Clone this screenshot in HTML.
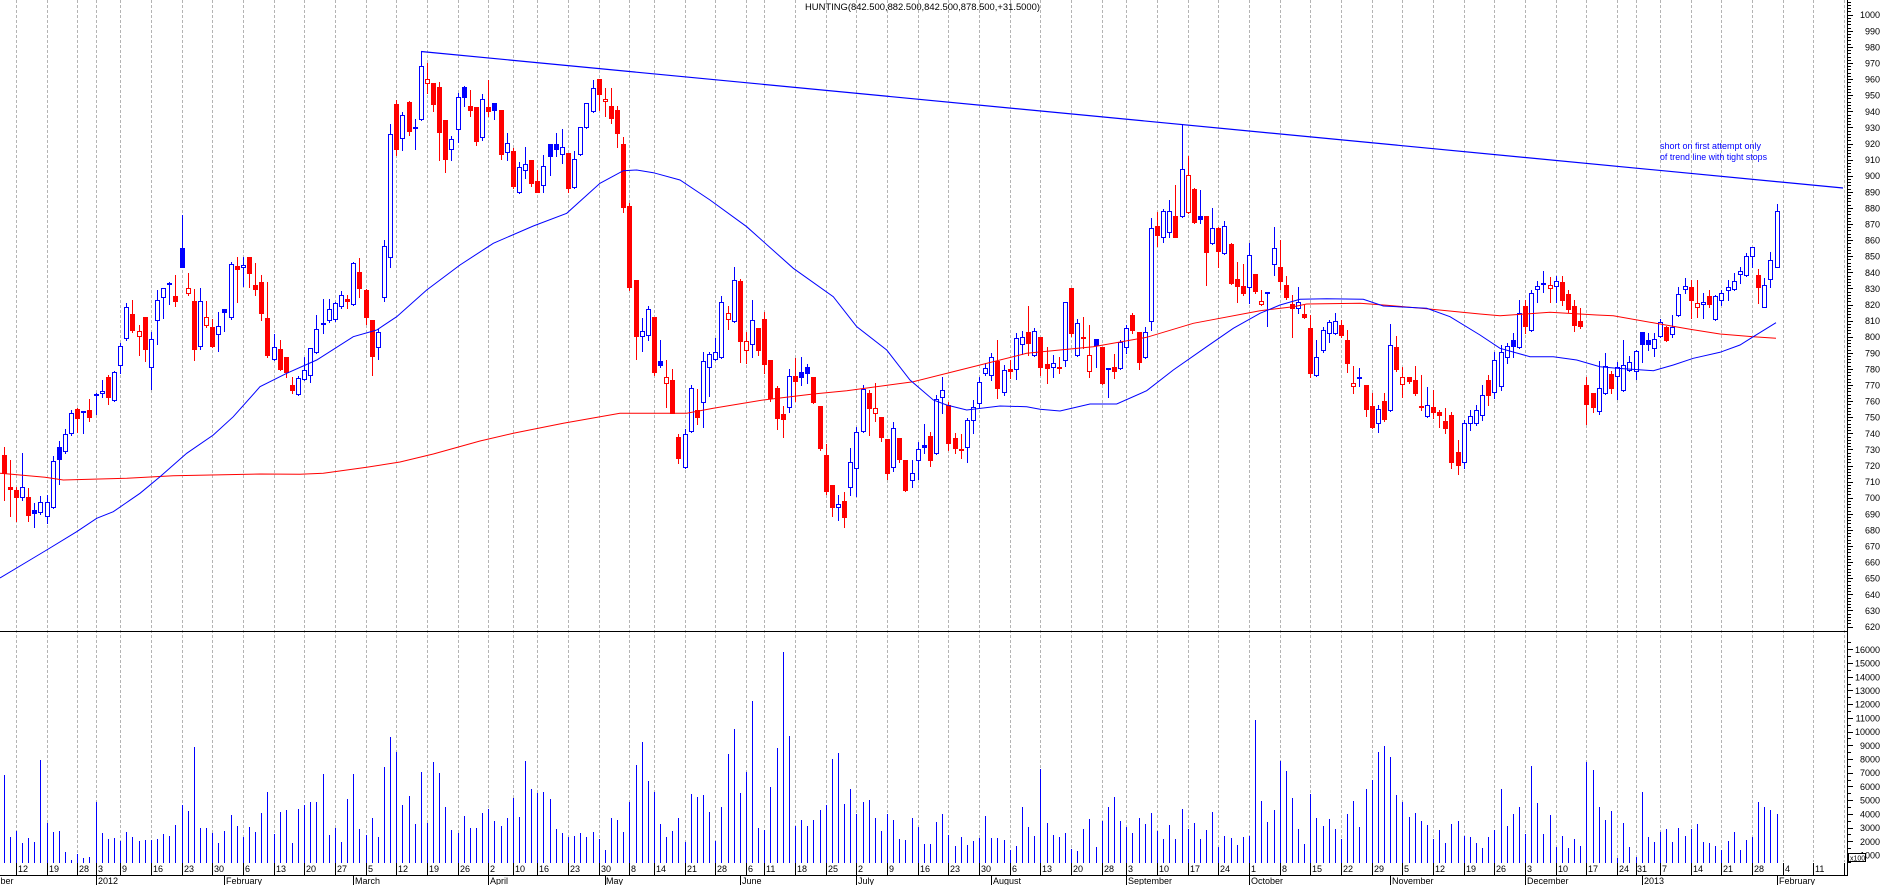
<!DOCTYPE html>
<html>
<head>
<meta charset="utf-8">
<style>
html,body{margin:0;padding:0;background:#fff;}
svg{display:block;}
text{font-family:"Liberation Sans",Arial,sans-serif;font-size:9px;fill:#000;}
</style>
</head>
<body>
<svg id="c" width="1883" height="885" viewBox="0 0 1883 885" xmlns="http://www.w3.org/2000/svg">
<rect x="0" y="0" width="1883" height="885" fill="#fff"/>
<g id="grid" shape-rendering="crispEdges"></g>
<g id="vol" shape-rendering="crispEdges"></g>
<g id="cand" shape-rendering="crispEdges"></g>
<!-- moving averages -->
<polyline fill="none" stroke="#ff0000" stroke-width="1" points="0,473.3 11.7,474.3 45,477.3 63.3,480 126.7,478.3 173.3,475.7 260,474 300,474.3 323.3,473.3 366.7,467.3 400,462 433.3,454 480,441 513.3,433.3 563.3,423.3 620,413.3 686.7,413.3 713.3,408.3 763.3,400 813.3,394 846.7,390.7 913.3,381.7 960,370 1026.7,353.3 1093.3,346.7 1146.7,337.3 1193.3,323.3 1260,310.7 1293.3,306.7 1306.7,304 1360,303.3 1386.7,305.3 1426.7,308.7 1480,314 1500,315.7 1550,312.3 1596.7,315 1613.3,315.7 1660,324 1690,329.3 1720,334 1753.3,336.7 1776,338.3"/>
<polyline fill="none" stroke="#0000ff" stroke-width="1" points="0,578 30,560 46.7,550 76.7,531.7 96.7,518.3 113.3,511.7 140,493.3 160,476.7 186.7,453.3 213.3,435 233.3,416.7 260,386.7 286.7,373.3 316.7,360 353.3,336.7 376.7,330 396.7,316.7 426.7,290 460,265 493.3,243.3 533.3,226 566.7,213.3 600,183.3 623.3,170.7 636.7,170 653.3,172.7 680,180 710,200 746.7,226.7 793.3,268.3 833.3,296.7 856.7,326.7 886.7,350 910,380 933.3,400 946.7,405 966.7,410 1000,406 1026.7,406.7 1040,409.3 1060,411 1090,404 1116.7,404 1146.7,390.7 1173.3,370 1206.7,346.7 1233.3,328.3 1260,313.3 1280,305 1300,299.3 1326.7,298.7 1363.3,299.3 1383.3,306 1426.7,308.3 1450,316.7 1480,335 1500,348.3 1530,356.7 1553.3,356.7 1576.7,360 1600,366.7 1616.7,368.3 1653.3,370.7 1673.3,365 1693.3,358.3 1720,352.3 1740,345 1753.3,336.7 1776,322.7"/>
<!-- trend line -->
<line x1="421" y1="51.5" x2="1843" y2="188" stroke="#0000ff" stroke-width="1.2"/>
<!-- axes -->
<g shape-rendering="crispEdges" stroke="#000">
<line x1="0" y1="631.5" x2="1848" y2="631.5"/>
<line x1="0" y1="875.5" x2="1848" y2="875.5"/>
<line x1="1847.5" y1="0" x2="1847.5" y2="876"/>
</g>
<g id="ticks" shape-rendering="crispEdges"></g>

<!-- title -->
<text x="805" y="10" textLength="235" lengthAdjust="spacingAndGlyphs">HUNTING(842.500,882.500,842.500,878.500,+31.5000)</text>

<!-- annotation -->
<text x="1660" y="149" style="fill:#0000ff" textLength="101" lengthAdjust="spacingAndGlyphs">short on first attempt only</text>
<text x="1660" y="160" style="fill:#0000ff" textLength="107" lengthAdjust="spacingAndGlyphs">of trend line with tight stops</text>

<!-- price labels -->
<g text-anchor="end">
<text x="1880" y="18.2">1000</text>
<text x="1880" y="34.3">990</text>
<text x="1880" y="50.4">980</text>
<text x="1880" y="66.5">970</text>
<text x="1880" y="82.6">960</text>
<text x="1880" y="98.7">950</text>
<text x="1880" y="114.8">940</text>
<text x="1880" y="130.9">930</text>
<text x="1880" y="147">920</text>
<text x="1880" y="163.1">910</text>
<text x="1880" y="179.2">900</text>
<text x="1880" y="195.3">890</text>
<text x="1880" y="211.4">880</text>
<text x="1880" y="227.5">870</text>
<text x="1880" y="243.6">860</text>
<text x="1880" y="259.7">850</text>
<text x="1880" y="275.8">840</text>
<text x="1880" y="291.9">830</text>
<text x="1880" y="308">820</text>
<text x="1880" y="324.1">810</text>
<text x="1880" y="340.2">800</text>
<text x="1880" y="356.3">790</text>
<text x="1880" y="372.4">780</text>
<text x="1880" y="388.5">770</text>
<text x="1880" y="404.6">760</text>
<text x="1880" y="420.7">750</text>
<text x="1880" y="436.8">740</text>
<text x="1880" y="452.9">730</text>
<text x="1880" y="469">720</text>
<text x="1880" y="485.1">710</text>
<text x="1880" y="501.2">700</text>
<text x="1880" y="517.3">690</text>
<text x="1880" y="533.4">680</text>
<text x="1880" y="549.5">670</text>
<text x="1880" y="565.6">660</text>
<text x="1880" y="581.7">650</text>
<text x="1880" y="597.8">640</text>
<text x="1880" y="613.9">630</text>
<text x="1880" y="630">620</text>
<!-- volume labels -->
<text x="1880" y="652.8">16000</text>
<text x="1880" y="666.5">15000</text>
<text x="1880" y="680.3">14000</text>
<text x="1880" y="694">13000</text>
<text x="1880" y="707.7">12000</text>
<text x="1880" y="721.4">11000</text>
<text x="1880" y="735.1">10000</text>
<text x="1880" y="748.8">9000</text>
<text x="1880" y="762.5">8000</text>
<text x="1880" y="776.2">7000</text>
<text x="1880" y="789.9">6000</text>
<text x="1880" y="803.7">5000</text>
<text x="1880" y="817.4">4000</text>
<text x="1880" y="831.1">3000</text>
<text x="1880" y="844.8">2000</text>
<text x="1880" y="858.5">1000</text>
</g>
<rect x="1848.5" y="853.5" width="17" height="8" fill="#fff" stroke="#000" stroke-width="1" shape-rendering="crispEdges"/>
<text x="1850" y="860.5" style="font-size:7px">x100</text>

<!-- day labels -->
<g>
<text x="18" y="872">12</text>
<text x="49" y="872">19</text>
<text x="79" y="872">28</text>
<text x="98" y="872">3</text>
<text x="122" y="872">9</text>
<text x="153" y="872">16</text>
<text x="184" y="872">23</text>
<text x="214" y="872">30</text>
<text x="245" y="872">6</text>
<text x="276" y="872">13</text>
<text x="306" y="872">20</text>
<text x="337" y="872">27</text>
<text x="368" y="872">5</text>
<text x="398" y="872">12</text>
<text x="429" y="872">19</text>
<text x="460" y="872">26</text>
<text x="490" y="872">2</text>
<text x="515" y="872">10</text>
<text x="539" y="872">16</text>
<text x="570" y="872">23</text>
<text x="601" y="872">30</text>
<text x="631" y="872">8</text>
<text x="656" y="872">14</text>
<text x="687" y="872">21</text>
<text x="717" y="872">28</text>
<text x="748" y="872">6</text>
<text x="766" y="872">11</text>
<text x="797" y="872">18</text>
<text x="828" y="872">25</text>
<text x="858" y="872">2</text>
<text x="889" y="872">9</text>
<text x="920" y="872">16</text>
<text x="950" y="872">23</text>
<text x="981" y="872">30</text>
<text x="1012" y="872">6</text>
<text x="1042" y="872">13</text>
<text x="1073" y="872">20</text>
<text x="1104" y="872">28</text>
<text x="1128" y="872">3</text>
<text x="1159" y="872">10</text>
<text x="1190" y="872">17</text>
<text x="1220" y="872">24</text>
<text x="1251" y="872">1</text>
<text x="1282" y="872">8</text>
<text x="1312" y="872">15</text>
<text x="1343" y="872">22</text>
<text x="1374" y="872">29</text>
<text x="1404" y="872">5</text>
<text x="1435" y="872">12</text>
<text x="1466" y="872">19</text>
<text x="1496" y="872">26</text>
<text x="1527" y="872">3</text>
<text x="1558" y="872">10</text>
<text x="1588" y="872">17</text>
<text x="1619" y="872">24</text>
<text x="1637" y="872">31</text>
<text x="1662" y="872">7</text>
<text x="1693" y="872">14</text>
<text x="1723" y="872">21</text>
<text x="1754" y="872">28</text>
<text x="1785" y="872">4</text>
<text x="1815" y="872">11</text>
</g>
<!-- month labels -->
<g>
<text x="-28" y="884">December</text>
<text x="98" y="884">2012</text>
<text x="226" y="884">February</text>
<text x="355" y="884">March</text>
<text x="490" y="884">April</text>
<text x="606" y="884">May</text>
<text x="742" y="884">June</text>
<text x="858" y="884">July</text>
<text x="993" y="884">August</text>
<text x="1128" y="884">September</text>
<text x="1251" y="884">October</text>
<text x="1392" y="884">November</text>
<text x="1527" y="884">December</text>
<text x="1644" y="884">2013</text>
<text x="1779" y="884">February</text>
</g>
</svg>
<script>
(function(){
var NS="http://www.w3.org/2000/svg";
function X(i){return Math.round(3.6+6.135*i);}
var S="R 455 473 447 500|R 487 489 460 516|R 490 497 487 521|B 487 497 453 500|R 497 515 488 521|b 510 513 503 527|B 502 512 496 514|B 502 516 495 523|B 461 507 456 508|b 447 459 441 484|"+
"B 434 451 429 453|B 413 433 410 435|R 409 418 408 432|b 411 412 411 433|R 410 417 399 421|b 394 394 393 414|B 391 393 380 397|R 377 397 375 404|B 372 400 371 401|B 346 365 343 373|"+
"B 307 338 303 340|R 314 330 300 332|r 331 336 325 355|R 317 349 317 361|B 339 367 332 389|B 300 320 290 344|B 288 297 288 318|b 283 283 282 304|R 296 301 275 306|b 248 267 215 267|"+
"r 288 293 273 295|R 301 349 289 360|B 301 346 288 349|r 317 325 301 327|R 327 346 319 347|B 326 334 312 351|b 309 312 309 331|B 264 317 262 319|R 266 269 257 302|B 265 267 257 286|"+
"R 257 273 257 287|R 285 289 263 295|R 282 313 275 320|R 318 355 282 357|B 347 359 334 360|R 349 369 340 370|R 357 372 357 377|R 385 390 377 393|B 378 394 376 395|B 370 379 357 380|"+
"B 348 375 348 382|B 329 352 315 353|b 323 324 299 333|B 309 320 299 322|B 303 319 302 321|B 295 306 291 308|R 299 301 295 308|B 263 304 262 305|R 272 288 258 297|R 290 317 289 324|"+
"R 320 356 320 375|B 332 347 329 359|B 246 297 240 301|B 134 257 124 267|R 104 149 100 155|B 115 138 112 150|R 102 131 101 135|b 127 128 119 149|B 66 119 51 120|r 79 83 63 93|"+
"R 83 104 83 111|R 87 132 82 160|R 120 159 120 172|B 139 149 136 160|B 97 129 93 142|b 87 97 86 106|R 106 110 90 116|R 107 141 107 145|B 99 137 94 140|R 107 111 80 116|"+
"b 103 110 103 119|R 110 154 110 159|B 143 152 133 160|R 151 186 148 188|B 167 192 162 193|B 164 170 147 178|R 160 183 160 186|R 181 192 170 192|B 166 185 155 192|b 144 156 144 175|"+
"b 144 149 133 156|B 147 154 129 163|R 153 188 153 192|B 159 187 151 188|B 127 154 127 155|B 103 127 103 128|B 88 111 80 112|R 79 94 79 110|r 99 101 88 116|R 106 118 88 123|"+
"R 110 133 106 147|R 144 207 137 212|R 206 287 203 290|R 280 336 280 359|B 331 336 318 351|B 309 335 306 340|R 317 372 317 375|b 361 365 340 367|r 377 383 360 407|R 380 413 369 413|"+
"R 437 458 434 463|B 434 467 429 468|B 388 431 385 432|R 410 417 389 424|B 361 402 352 427|B 354 367 352 396|B 352 359 338 360|B 302 357 296 358|r 313 319 306 329|B 280 321 267 322|"+
"R 281 341 279 362|r 341 350 332 363|B 320 344 300 357|R 328 350 328 355|R 319 364 312 373|R 360 398 360 401|R 388 418 386 429|R 414 419 406 437|B 376 407 369 412|R 376 381 358 401|"+
"b 372 377 357 385|b 367 373 364 383|R 377 402 377 403|R 406 448 406 450|R 455 491 444 494|R 485 507 485 516|B 504 507 495 520|R 501 517 492 527|B 462 487 448 495|B 432 468 427 496|"+
"B 389 431 385 432|R 393 408 390 435|r 408 413 383 421|R 417 437 417 441|R 439 473 439 479|B 428 467 422 471|R 438 459 438 462|R 460 490 460 491|B 473 480 460 487|B 449 460 442 479|"+
"b 445 447 424 453|R 436 460 432 466|B 399 453 395 454|B 390 397 377 413|R 405 443 402 450|R 438 448 433 453|r 449 450 434 458|B 420 447 418 462|B 407 420 400 433|B 382 403 377 407|"+
"B 368 373 363 375|B 357 375 353 380|R 361 388 340 398|B 370 392 365 395|R 369 371 360 378|B 338 369 333 379|B 337 344 331 354|R 332 343 306 355|B 331 355 328 356|R 337 367 337 375|"+
"R 364 368 347 383|B 363 367 355 377|R 367 368 357 373|B 302 360 302 366|R 288 333 288 336|B 323 355 319 356|R 337 338 317 348|r 355 371 325 377|b 339 345 339 367|R 347 383 347 384|"+
"b 368 369 368 397|R 367 371 354 378|B 342 368 340 369|B 328 347 325 353|R 315 330 313 333|R 332 362 332 369|B 332 357 327 358|B 228 321 218 330|R 226 235 212 246|B 211 237 209 242|"+
"B 211 232 200 237|R 216 237 185 237|B 169 216 124 217|r 175 212 156 213|R 189 222 188 223|b 216 219 190 223|R 216 252 216 285|B 228 243 208 244|R 228 251 227 267|B 226 253 221 254|"+
"R 244 283 243 284|R 279 286 262 302|R 286 293 264 295|B 255 287 243 303|R 274 291 274 293|r 301 304 290 305|b 292 293 292 326|B 248 264 227 275|R 267 281 240 289|R 285 297 276 299|"+
"R 304 308 295 337|B 302 308 287 313|R 314 317 305 318|R 328 373 315 377|B 357 375 340 376|B 330 350 327 352|B 322 333 320 342|B 321 333 313 334|R 325 335 320 337|R 340 363 330 372|"+
"r 383 386 366 393|b 377 377 368 386|R 385 409 385 416|R 406 427 393 428|B 409 423 405 432|R 401 419 393 421|B 345 410 324 411|R 347 369 336 371|r 377 384 367 397|R 377 381 377 383|"+
"R 380 393 366 395|r 406 407 375 410|B 405 416 387 417|R 407 412 390 418|R 412 415 410 427|R 421 428 408 433|R 415 462 412 468|R 452 465 440 474|B 423 462 420 468|B 416 423 410 430|"+
"B 410 423 405 425|B 395 415 385 420|R 380 395 375 405|B 360 392 352 398|B 352 386 345 390|B 346 357 343 363|b 340 346 333 357|B 313 347 300 348|R 306 326 300 333|B 293 330 290 331|"+
"B 286 289 281 302|b 283 284 271 292|r 285 288 277 302|B 281 286 276 302|R 282 300 276 305|R 294 309 290 312|R 306 325 300 331|R 321 326 308 328|R 385 404 377 424|R 393 407 393 412|"+
"B 388 411 361 414|B 366 393 353 394|R 374 388 371 393|B 367 376 362 399|B 365 390 340 391|B 362 370 356 371|B 351 371 350 379|b 332 344 332 362|b 340 344 333 350|B 339 348 333 356|"+
"B 322 336 319 337|R 327 340 326 341|B 327 334 315 337|B 294 315 287 316|B 286 289 278 293|R 287 300 280 318|r 303 307 280 317|B 302 304 293 318|R 296 304 290 307|B 296 319 295 320|"+
"B 293 300 290 305|B 287 290 280 300|B 281 289 273 290|B 271 274 267 283|B 256 275 253 276|B 247 256 247 267|R 275 287 269 303|B 285 307 278 307|B 260 279 252 287|B 211 267 204 267";
var data=S.split("|").map(function(s){var p=s.split(" ");return [p[0],+p[1],+p[2],+p[3],+p[4]];});

var VZ=[225,410,393,428,413,426,180,368,396,392,456,480,462,475,470,305,400,417,413,422,395,410,422,420,419,418,402,408,375,315,333,140,383,383,398,430,392,345,378,410,380,396,338,275,402,336,330,428,327,315,305,305,221,404,383,425,298,221,386,404,353,410,200,110,157,315,288,372,215,370,185,218,320,390,398,348,385,383,340,326,362,377,355,293,350,182,266,280,275,298,386,398,410,407,400,410,396,418,450,353,360,396,305,195,125,242,276,371,410,393,353,425,282,290,286,335,422,320,162,86,280,215,4,383,390,260,143,-144,107,378,360,378,360,330,315,177,158,312,267,343,305,300,353,392,342,360,416,420,353,380,432,432,365,342,405,437,410,435,423,413,348,413,413,420,450,437,320,380,407,207,368,405,410,398,447,453,387,356,442,362,320,290,362,380,398,353,373,338,392,417,375,417,326,386,368,416,390,336,440,408,413,435,410,408,60,303,366,330,183,213,293,386,432,282,353,378,356,386,417,342,303,382,268,240,155,138,170,285,305,350,338,362,375,418,390,430,373,363,408,410,428,445,410,390];
var VY=[789,826,814,807,834,766,803,834,815,847,836,848,839,846,762,770,807,820,811,858,823,847,857,792,837,842,832,829,842,828,836,829,824,842,843,846,850,841,832,850,840,837,802,807,810,814];
var vol=[];
for(var i=0;i<VZ.length;i++)vol.push(Math.round(700+VZ[i]/3));
for(var j=0;j<VY.length;j++)vol.push(VY[j]);

// gridlines
var g="";
var wk=[2,7,12,15,19,24,29,34,39,44,49,54,59,64,69,74,79,83,87,92,97,102,106,111,116,121,124,129,134,139,144,149,154,159,164,169,174,179,183,188,193,198,203,208,213,218,223,228,233,238,243,248,253,258,263,266,270,275,280,285,290,295,300];
var mo=[15,36,57,79,98,120,139,161,183,203,226,248,267,289];
wk.forEach(function(k){var x=X(k)+0.5;
  g+='<line x1="'+x+'" x2="'+x+'" y1="0" y2="862" stroke="#b4b4b4" stroke-dasharray="3 2"/>';
});
document.getElementById("grid").innerHTML=g;

// volume
var v="";
vol.forEach(function(y,i){var x=X(i)+0.5;v+='<line x1="'+x+'" x2="'+x+'" y1="'+y+'" y2="863" stroke="#0000ff"/>';});
document.getElementById("vol").innerHTML=v;

// candles
var h="";
data.forEach(function(d,i){
  var t=d[0],bt=d[1],bb=d[2],wt=d[3],wb=d[4],x=X(i);
  var col=(t=="B"||t=="b")?"#0000ff":"#ff0000";
  var filled=(t=="b"||t=="R");
  h+='<line x1="'+(x+0.5)+'" x2="'+(x+0.5)+'" y1="'+wt+'" y2="'+(wb+1)+'" stroke="'+col+'"/>';
  if(bb-bt<2){h+='<rect x="'+(x-2)+'" y="'+bt+'" width="5" height="2" fill="'+col+'"/>';}
  else if(filled){h+='<rect x="'+(x-2)+'" y="'+bt+'" width="5" height="'+(bb-bt+1)+'" fill="'+col+'"/>';}
  else{h+='<rect x="'+(x-1.5)+'" y="'+(bt+0.5)+'" width="4" height="'+(bb-bt)+'" fill="#fff" stroke="'+col+'"/>';}
});
document.getElementById("cand").innerHTML=h;

// ticks
var tk="";
for(var p=620;p<=1010;p+=2){var y=Math.round(14.7+(1000-p)*1.61)+0.5;if(y<0||y>632)continue;var L=(p%10==0)?5:3;tk+='<line x1="1848" x2="'+(1848+L)+'" y1="'+y+'" y2="'+y+'" stroke="#000"/>';}
for(var q=500;q<=16500;q+=500){var y2=Math.round(868.7-q/1000*13.71)+0.5;if(y2<634)continue;var L2=(q%1000==0)?5:3;tk+='<line x1="1848" x2="'+(1848+L2)+'" y1="'+y2+'" y2="'+y2+'" stroke="#000"/>';}
wk.forEach(function(k){var x=X(k)+0.5;if(x>1846)return;tk+='<line x1="'+x+'" x2="'+x+'" y1="863" y2="875" stroke="#000"/>';});
mo.forEach(function(k){var x=X(k)+0.5;tk+='<line x1="'+x+'" x2="'+x+'" y1="875" y2="885" stroke="#000"/>';});
document.getElementById("ticks").innerHTML=tk;
})();
</script>
</body>
</html>
